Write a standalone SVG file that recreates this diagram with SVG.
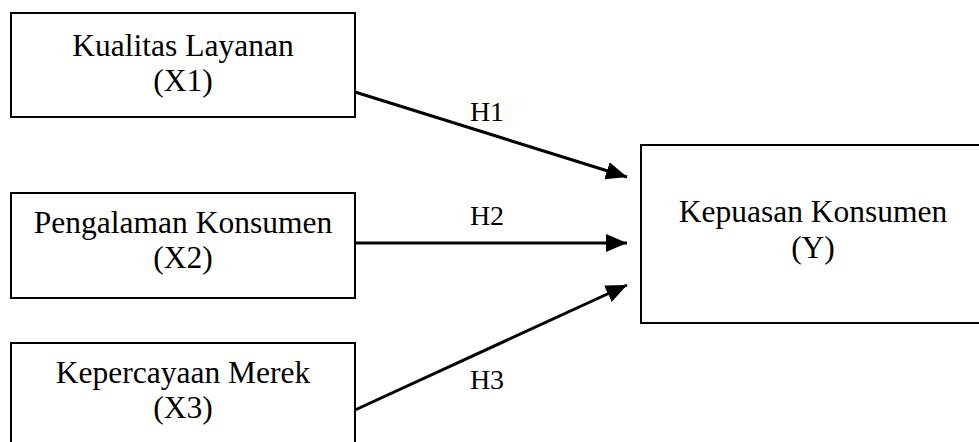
<svg xmlns="http://www.w3.org/2000/svg" width="979" height="442" viewBox="0 0 979 442">
<style>
.box{fill:#fff;stroke:#000;stroke-width:2}
.t{font-family:"Liberation Serif","Times New Roman",serif;font-size:31.5px;text-anchor:middle;fill:#000}
.h{font-family:"Liberation Serif","Times New Roman",serif;font-size:28px;text-anchor:middle;fill:#000}
.c{stroke:#000;stroke-width:3;fill:none}
</style>
<defs>
<marker id="ah" markerWidth="7" markerHeight="6" refX="7" refY="3" orient="auto" markerUnits="strokeWidth">
<path d="M0,0 L7,3 L0,6 Z" fill="#000"/>
</marker>
</defs>
<rect width="979" height="442" fill="#fff"/>
<g id="x1">
<rect class="box" x="11" y="13" width="344" height="104"/>
<text class="t" x="183" y="56">Kualitas Layanan</text>
<text class="t" x="183" y="91">(X1)</text>
</g>
<g id="x2">
<rect class="box" x="11" y="193" width="344" height="105"/>
<text class="t" x="183" y="233">Pengalaman Konsumen</text>
<text class="t" x="183" y="268">(X2)</text>
</g>
<g id="x3">
<rect class="box" x="11" y="343" width="344" height="110"/>
<text class="t" x="183" y="383">Kepercayaan Merek</text>
<text class="t" x="183" y="418">(X3)</text>
</g>
<g id="y">
<rect class="box" x="641" y="145" width="350" height="178"/>
<text class="t" x="813" y="222">Kepuasan Konsumen</text>
<text class="t" x="813" y="258">(Y)</text>
</g>
<g id="connectors">
<line class="c" x1="355" y1="92" x2="627" y2="177" marker-end="url(#ah)"/>
<line class="c" x1="355" y1="243" x2="627" y2="243" marker-end="url(#ah)"/>
<line class="c" x1="355" y1="410" x2="627" y2="285" marker-end="url(#ah)"/>
<text class="h" x="487" y="121">H1</text>
<text class="h" x="487" y="225">H2</text>
<text class="h" x="487" y="389">H3</text>
</g>
</svg>
